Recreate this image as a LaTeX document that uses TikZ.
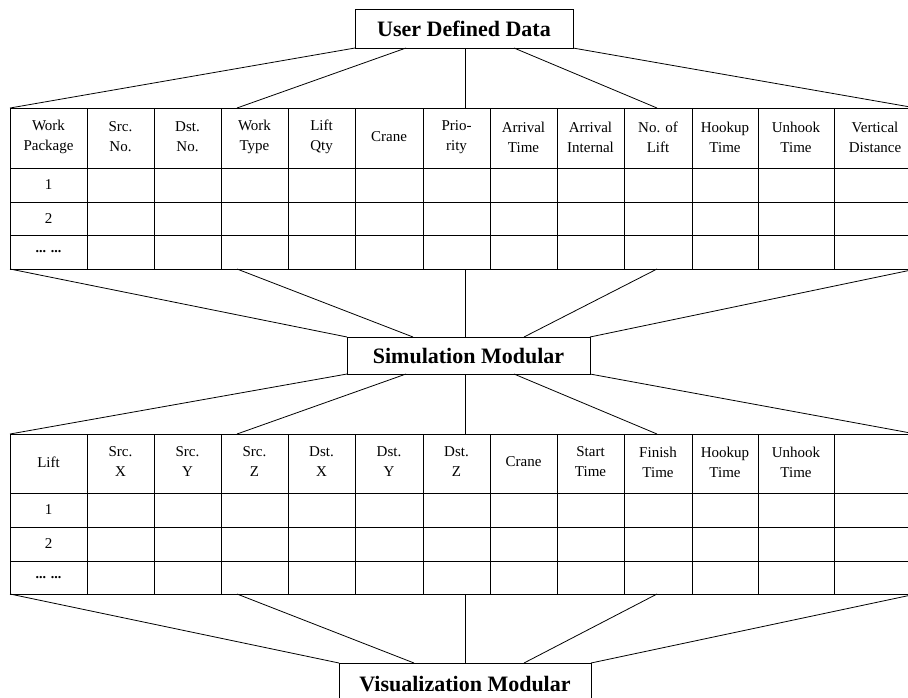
\documentclass[tikz,border=0pt]{standalone}
\usepackage{fontspec}
\setmainfont{Liberation Serif}
\usetikzlibrary{calc}
\begin{document}
\begin{tikzpicture}[x=1pt,y=-1pt,
  box/.style={draw,line width=0.9pt,rectangle,inner sep=0pt,outer sep=0pt,font=\fontsize{22}{26}\selectfont\bfseries},
  cell/.style={font=\fontsize{15}{20}\selectfont,align=center,inner sep=0pt},
  dots/.style={font=\fontsize{14}{15}\selectfont\bfseries,inner sep=0pt},
  grid/.style={line width=0.8pt},
  link/.style={line width=0.8pt}]
\useasboundingbox (0,0) rectangle (908,697);
\clip (0,0) rectangle (908,697);
\fill[white] (0,0) rectangle (908,697);

% ---------- boxes ----------
\node[box,minimum width=218pt,minimum height=39pt] (ud) at (464,28.5) {User Defined Data};
\node[box,minimum width=243pt,minimum height=37pt] (sim) at (468.5,355.5) {Simulation Modular};
\node[box,minimum width=252pt,minimum height=42pt] (vis) at (465,684) {Visualization Modular};

% ---------- table 1 ----------
\foreach \y in {108,168,202,235,269} \draw[grid] (10,\y) -- (916,\y);
\foreach \x in {10,87,154,221,288,355,423,490,557,624,692,758,834,916} \draw[grid] (\x,108) -- (\x,269);
\foreach \c/\t [count=\i] in {48.5/{Work\\Package},120.5/{Src.\\No.},187.5/{Dst.\\No.},254.5/{Work\\Type},321.5/{Lift\\Qty},389/{Crane},456.5/{Prio-\\rity},523.5/{Arrival\\Time},590.5/{Arrival\\Internal},658/{No. of\\Lift},725/{Hookup\\Time},796/{Unhook\\Time},875/{Vertical\\Distance}}
  \node[cell] (ha\i) at (\c,137) {\t};
\node[cell] (ra1) at (48.5,185) {1};
\node[cell] (ra2) at (48.5,218.5) {2};
\node[dots] (ra3) at (48.5,252) {... ...};

% ---------- table 2 ----------
\foreach \y in {434,493,527,561,594} \draw[grid] (10,\y) -- (916,\y);
\foreach \x in {10,87,154,221,288,355,423,490,557,624,692,758,834,916} \draw[grid] (\x,434) -- (\x,594);
\foreach \c/\t [count=\i] in {48.5/{Lift},120.5/{Src.\\X},187.5/{Src.\\Y},254.5/{Src.\\Z},321.5/{Dst.\\X},389/{Dst.\\Y},456.5/{Dst.\\Z},523.5/{Crane},590.5/{Start\\Time},658/{Finish\\Time},725/{Hookup\\Time},796/{Unhook\\Time}}
  \node[cell] (hb\i) at (\c,462) {\t};
\node[cell] (rb1) at (48.5,510) {1};
\node[cell] (rb2) at (48.5,544) {2};
\node[dots] (rb3) at (48.5,577.5) {... ...};

% ---------- attachment points on the tables ----------
\foreach \x [count=\i] in {10,237,465,657,916} {
  \coordinate (t1top\i) at (\x,108);
  \coordinate (t1bot\i) at (\x,269);
  \coordinate (t2top\i) at (\x,434);
  \coordinate (t2bot\i) at (\x,594);
}

% ---------- connectors ----------
\foreach \s [count=\i] in {0,51,110,159,218}
  \draw[link] ([xshift=\s pt]ud.south west) -- (t1top\i);
\foreach \s [count=\i] in {0,66,118,177,243}
  \draw[link] (t1bot\i) -- ([xshift=\s pt]sim.north west);
\foreach \s [count=\i] in {0,59,118,167,243}
  \draw[link] ([xshift=\s pt]sim.south west) -- (t2top\i);
\foreach \s [count=\i] in {0,75,126,185,252}
  \draw[link] (t2bot\i) -- ([xshift=\s pt]vis.north west);
\end{tikzpicture}
\end{document}
